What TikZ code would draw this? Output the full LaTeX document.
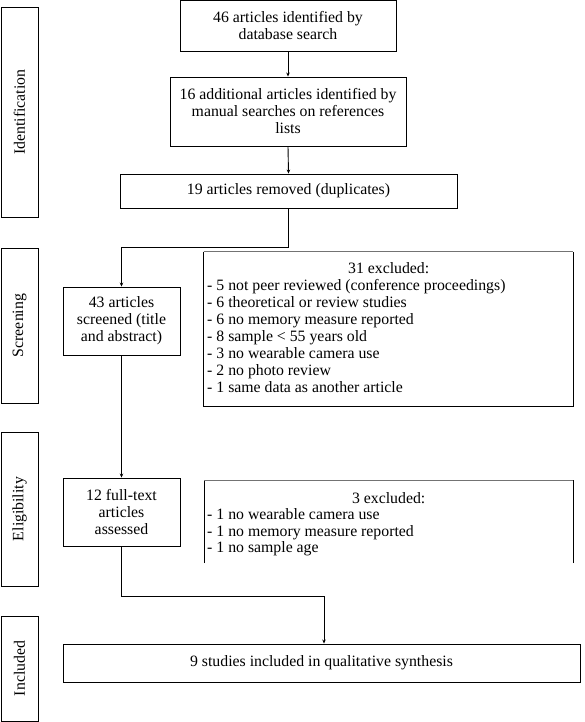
\documentclass[tikz,border=0pt]{standalone}
\usepackage{fontspec}
\setmainfont{Liberation Serif}
\usetikzlibrary{arrows.meta}
\begin{document}
\begin{tikzpicture}[x=1pt,y=-1pt,
  every node/.style={font=\fontsize{15.8}{17}\selectfont},
  box/.style={draw, line width=0.9pt, inner sep=1pt, align=center},
  side/.style={draw, line width=0.9pt, minimum width=37pt, inner sep=0pt},
  conn/.style={line width=0.9pt},
  arr/.style={conn, -{Stealth[length=4pt,width=3.5pt]}}]
\useasboundingbox (0,0) rectangle (585,722);
% side stage boxes
\node[side, minimum height=210pt] (sid) at (19.5,112) {};
\node[rotate=90] at (sid.center) {Identification};
\node[side, minimum height=155pt] (sscr) at (19.5,325.5) {};
\node[rotate=90] at (sscr.center) {Screening};
\node[side, minimum height=154pt] (selig) at (19.5,509) {};
\node[rotate=90] at (selig.center) {Eligibility};
\node[side, minimum height=105pt] (sinc) at (19.5,668.5) {};
\node[rotate=90] at (sinc.center) {Included};
% main boxes
\node[box, minimum width=216pt, minimum height=51pt] (b1) at (288,26) {46 articles identified by\\database search};
\node[box, minimum width=236pt, minimum height=69pt] (b2) at (288,111.5) {16 additional articles identified by\\manual searches on references\\lists};
\node[box, minimum width=337pt, minimum height=34pt] (b3) at (288.5,191) {19 articles removed (duplicates)};
\node[box, minimum width=117pt, minimum height=68pt] (b4) at (121.5,321) {43 articles\\screened (title\\and abstract)};
\node[box, minimum width=369pt, minimum height=154pt, draw=none] (b5) at (388.5,329) {};
\draw[conn] (b5.north west) -- (b5.south west) -- (b5.south east) -- (b5.north east);
\draw[conn, black!55] (b5.north west) -- (b5.north east);
\node[align=left, anchor=north west, inner sep=0pt] (t5) at (207,262) {\makebox[363pt]{31 excluded:}\\- 5 not peer reviewed (conference proceedings)\\- 6 theoretical or review studies\\- 6 no memory measure reported\\- 8 sample < 55 years old\\- 3 no wearable camera use\\- 2 no photo review\\- 1 same data as another article};
\node[box, minimum width=117pt, minimum height=68pt] (b6) at (121.5,512) {12 full-text\\articles\\assessed};
\coordinate (b7nw) at (204,480);
\coordinate (b7ne) at (573,480);
\coordinate (b7sw) at (204,563);
\coordinate (b7se) at (573,563);
\draw[conn] (b7sw) -- (b7nw);
\draw[conn] (b7se) -- (b7ne);
\draw[conn, black!55] (b7nw) -- (b7ne);
\node[align=left, anchor=north west, inner sep=0pt, font=\fontsize{15.8}{16.2}\selectfont] (t7) at (207,492.5) {\makebox[363pt]{3 excluded:}\\- 1 no wearable camera use\\- 1 no memory measure reported\\- 1 no sample age};
\node[box, minimum width=517pt, minimum height=38pt] (b8) at (321.5,663) {9 studies included in qualitative synthesis};
% connectors
\draw[arr] (b1.south) -- (b2.north);
\draw[arr] (b2.south) -- (b3.north);
\coordinate (k1) at (288.5,247);
\coordinate (k2) at (121.5,247);
\draw[arr] (b3.south) -- (k1) -- (k2) -- (b4.north);
\draw[arr] (b4.south) -- (b6.north);
\coordinate (k3) at (121.5,596);
\coordinate (k4) at (324,596);
\draw[arr] (b6.south) -- (k3) -- (k4) -- (k4 |- b8.north);
\end{tikzpicture}
\end{document}
